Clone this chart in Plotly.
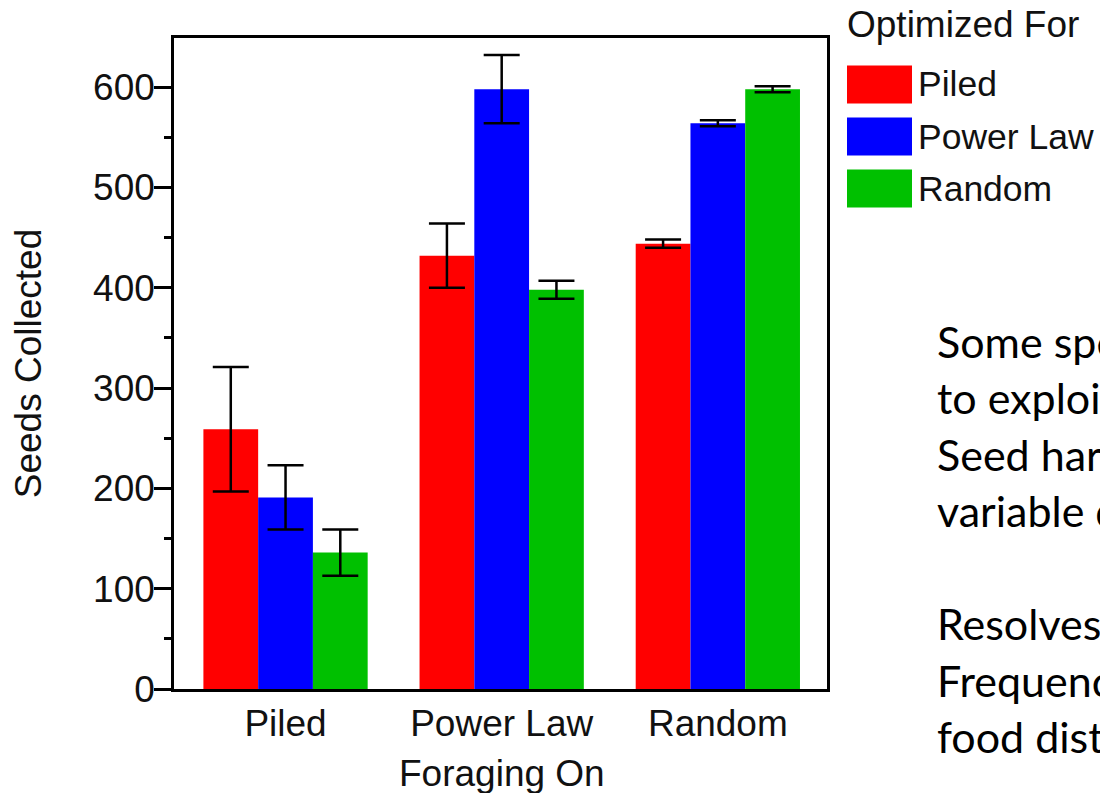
import plotly.graph_objects as go

# ---- data ----
categories = ["Piled", "Power Law", "Random"]          # Foraging On
series_names = ["Piled", "Power Law", "Random"]        # Optimized For
series_colors = ["#FF0000", "#0000FF", "#00C000"]
piled_vals = [259, 432, 444]
powerlaw_vals = [191, 598, 564]
random_vals = [136, 398, 598]
piled_err = [62, 32, 4]
powerlaw_err = [32, 34, 3]
random_err = [23, 9, 3]
y_ticks = [0, 100, 200, 300, 400, 500, 600]

side_lines = [
    "Some species evolved",
    "to exploit different",
    "Seed harvester ants",
    "variable distributions",
    "",
    "Resolves the",
    "Frequency of",
    "food distributions",
]

values = [piled_vals, powerlaw_vals, random_vals]
errors = [piled_err, powerlaw_err, random_err]

OFF = 8  # browser body margin
W, H = 1108 - OFF, 793 - OFF
L, R, T, B = 174 - OFF, 827 - OFF, 38 - OFF, 689 - OFF  # plot area pixel edges
pw, ph = R - L, B - T


def px(x):
    # x given in reference-picture pixels
    return (x - OFF - L) / pw


def py(y):
    return (B - (y - OFF)) / ph


FONT = "Arial, Liberation Sans, sans-serif"
FS = 37
TXT = "#111"

fig = go.Figure()
for name, color, vals, errs in zip(series_names, series_colors, values, errors):
    fig.add_trace(go.Bar(
        x=categories, y=vals, name=name,
        marker=dict(color=color, line=dict(width=0)),
        error_y=dict(type="data", array=errs, visible=True,
                     color="black", thickness=2.5, width=18),
        showlegend=False,
    ))

# legend drawn as large swatches
fig.add_annotation(text="Optimized For", xref="paper", yref="paper",
                   x=px(845), y=py(24.5), xanchor="left", yanchor="middle",
                   showarrow=False, font=dict(family=FONT, size=FS, color=TXT))
for i, (name, color) in enumerate(zip(series_names, series_colors)):
    cy = 84.5 + 52 * i
    fig.add_shape(type="rect", xref="paper", yref="paper",
                  x0=px(847), x1=px(912), y0=py(cy - 19), y1=py(cy + 19),
                  fillcolor=color, line=dict(width=0), layer="above")
    fig.add_annotation(text=name, xref="paper", yref="paper",
                       x=px(916), y=py(cy), xanchor="left", yanchor="middle",
                       showarrow=False, font=dict(family=FONT, size=35.5, color=TXT))

# x-axis title placed precisely
fig.add_annotation(text="Foraging On", xref="paper", yref="paper",
                   x=px(502), y=py(786 - 0.3465 * FS), xanchor="center", yanchor="middle",
                   showarrow=False, font=dict(family=FONT, size=FS, color=TXT))

# side text (cut off by the figure edge, as in the reference)
SIDE_FS = 43
base0 = 358
step = 56.5
for k, line in enumerate(side_lines):
    if not line:
        continue
    baseline = base0 + step * k
    fig.add_annotation(text=line, xref="paper", yref="paper",
                       x=px(935), y=py(baseline - 0.387 * SIDE_FS), xanchor="left", yanchor="middle",
                       showarrow=False, align="left",
                       font=dict(family="Lato, sans-serif", size=SIDE_FS, color="black"))

fig.update_layout(
    width=W, height=H,
    margin=dict(l=L, r=W - R, t=T, b=H - B, pad=0, autoexpand=False),
    paper_bgcolor="white", plot_bgcolor="white",
    barmode="group", bargap=0.24, bargroupgap=0,
    font=dict(family=FONT, size=FS, color=TXT),
)
fig.update_xaxes(
    type="category", range=[-0.516, 2.505], automargin=False,
    showline=True, mirror=True, linecolor="black", linewidth=2.5,
    ticks="", showgrid=False, zeroline=False,
    tickfont=dict(family=FONT, size=FS, color=TXT),
)
fig.update_yaxes(
    range=[0, 649], tickvals=y_ticks, automargin=False,
    showline=True, mirror=True, linecolor="black", linewidth=2.5,
    ticks="outside", ticklen=17, tickwidth=2.5, tickcolor="black",
    ticklabelstandoff=-8,
    minor=dict(ticks="outside", ticklen=7, tickwidth=2.5, tickcolor="black", dtick=50, showgrid=False),
    showgrid=False, zeroline=False,
    tickfont=dict(family=FONT, size=FS, color=TXT),
    title=dict(text="Seeds Collected", font=dict(family=FONT, size=FS, color=TXT), standoff=44),
)

fig.write_html("out.html")
